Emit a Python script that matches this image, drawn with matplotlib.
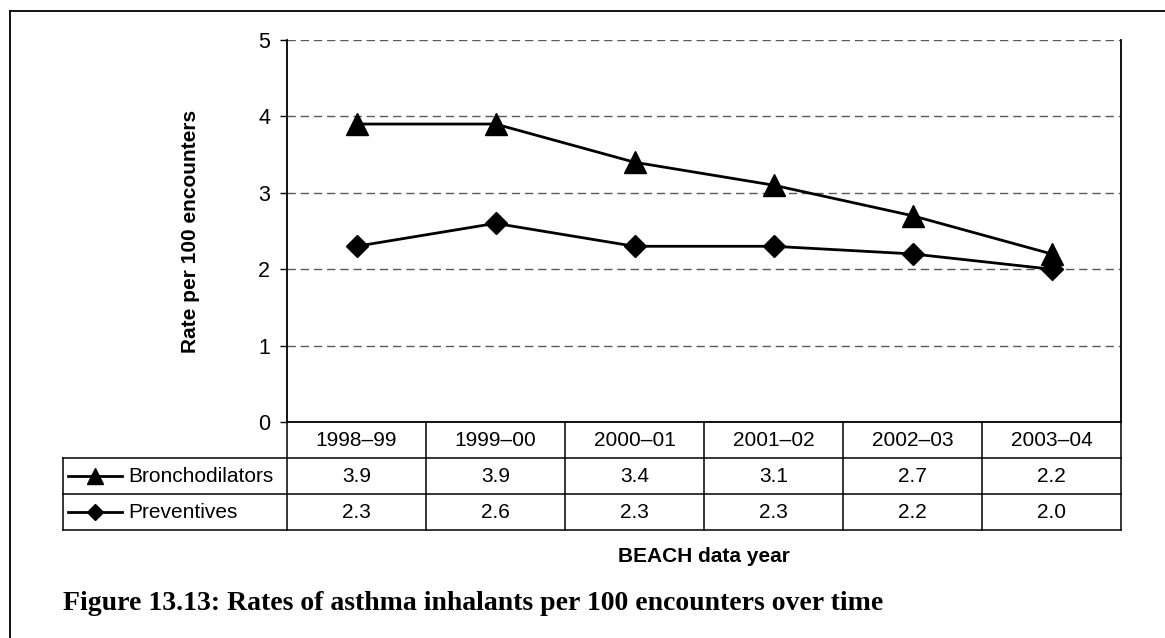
import matplotlib
matplotlib.use('Agg')
import matplotlib.pyplot as plt
from matplotlib.lines import Line2D
import numpy as np

# --- data ---
years = ['1998\u201399', '1999\u201300', '2000\u201301', '2001\u201302', '2002\u201303', '2003\u201304']
bronchodilators = [3.9, 3.9, 3.4, 3.1, 2.7, 2.2]
preventives = [2.3, 2.6, 2.3, 2.3, 2.2, 2.0]
series = [('Bronchodilators', bronchodilators, '^', 15.5),
          ('Preventives', preventives, 'D', 11)]

plt.rcParams['font.family'] = ['Liberation Sans', 'DejaVu Sans']

W, H = 1165, 638
fig = plt.figure(figsize=(W / 100, H / 100), dpi=100)

def px_box(l, t, r, b):
    return [l / W, 1 - b / H, (r - l) / W, (b - t) / H]

# plot area in pixels
L, T, R, B = 287, 40, 1121, 422
TAB_L, TAB_B = 63, 530

ax = fig.add_axes(px_box(L, T, R, B))
x = np.arange(len(years)) + 0.5
for name, vals, mk, ms in series:
    ax.plot(x, vals, color='black', lw=2, marker=mk, ms=ms, zorder=3, clip_on=False)

ax.set_xlim(0, len(years))
ax.set_ylim(0, 5)
ax.set_yticks(range(6))
ax.set_xticks([])
ax.yaxis.grid(True, color='#5a5a5a', lw=1.0, linestyle=(0, (6, 3.5)), zorder=0)
ax.set_axisbelow(True)
ax.spines['top'].set_visible(False)
for s in ['left', 'right', 'bottom']:
    ax.spines[s].set_linewidth(1.3)
ax.tick_params(axis='y', length=5, width=1, pad=7, labelsize=15.5)

fig.text(190 / W, 1 - 231 / H, 'Rate per 100 encounters', rotation=90,
         ha='center', va='center', fontsize=15, fontweight='bold')

# --- data table under the axis ---
tab = fig.add_axes(px_box(TAB_L, B, R, TAB_B))
colw = (R - L) / len(years)
lab = (L - TAB_L) / colw
tab.set_xlim(-lab, len(years))
tab.set_ylim(0, 3)
tab.axis('off')
lk = dict(color='black', lw=1.1, clip_on=False)
for yy in [0, 1, 2]:
    tab.plot([-lab, len(years)], [yy, yy], **lk)
tab.plot([-lab, -lab], [0, 2], **lk)
for i in range(len(years) + 1):
    tab.plot([i, i], [0, 3], **lk)
for i, yr in enumerate(years):
    tab.text(i + 0.5, 2.5, yr, ha='center', va='center', fontsize=15)
for r, (name, vals, mk, ms) in enumerate(series):
    yy = 1.5 - r
    for i, v in enumerate(vals):
        tab.text(i + 0.5, yy, f'{v:.1f}', ha='center', va='center', fontsize=15)
    x0 = -lab + 5 / colw
    tab.plot([x0, x0 + 54 / colw], [yy, yy], color='black', lw=2, clip_on=False)
    tab.plot([x0 + 27 / colw], [yy], color='black', marker=mk, ms=ms * 0.72, clip_on=False)
    tab.text(x0 + 60 / colw, yy, name, ha='left', va='center', fontsize=15)

fig.text((L + R) / 2 / W, 1 - 557 / H, 'BEACH data year', ha='center', va='center',
         fontsize=15, fontweight='bold')
fig.text(63 / W, 1 - 604 / H, 'Figure 13.13: Rates of asthma inhalants per 100 encounters over time',
         ha='left', va='center', fontsize=20, fontweight='bold', family='Liberation Serif')

# outer frame (top and left only)
fig.add_artist(Line2D([10 / W, 1], [1 - 11 / H, 1 - 11 / H], color='black', lw=1.3, transform=fig.transFigure))
fig.add_artist(Line2D([10 / W, 10 / W], [0, 1 - 11 / H], color='black', lw=1.3, transform=fig.transFigure))

fig.savefig('out.png', dpi=100, facecolor='white')
